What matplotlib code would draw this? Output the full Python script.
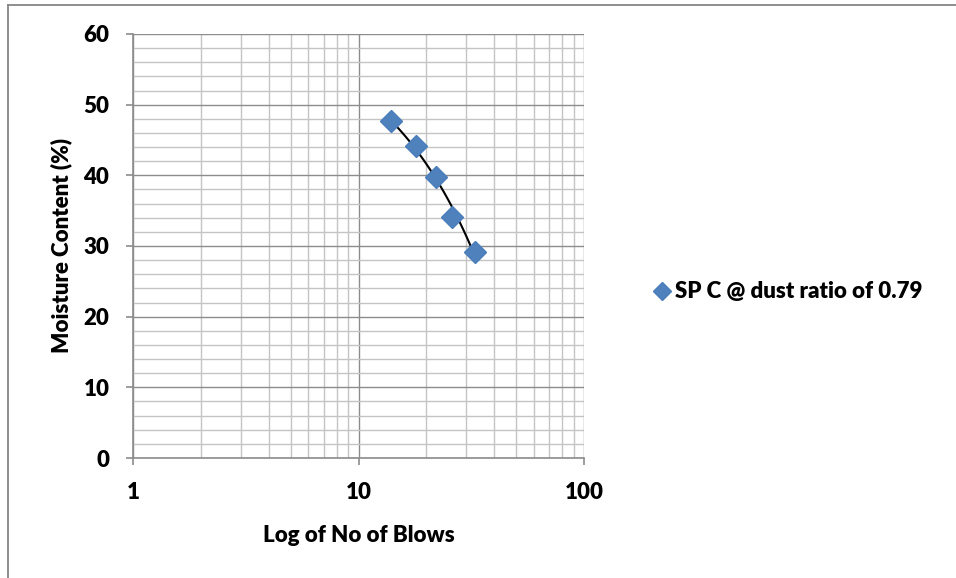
import numpy as np
import matplotlib
matplotlib.use('Agg')
import matplotlib.pyplot as plt
from matplotlib.ticker import FixedLocator, LogLocator, NullFormatter, MultipleLocator
from matplotlib.lines import Line2D

plt.rcParams['font.family'] = ['Lato', 'DejaVu Sans']
plt.rcParams['font.weight'] = 'heavy'

# blow counts and moisture contents for the liquid limit test
blows = [14, 18, 22, 26, 33]
moisture = [47.7, 44.1, 39.8, 34.1, 29.1]
series_name = 'SP C @ dust ratio of 0.79'
x_ticks = [1, 10, 100]
x_tick_labels = ['1', '10', '100']

FS = 16

fig = plt.figure(figsize=(9.56, 5.78), dpi=100)
ax = fig.add_axes([0.1391, 0.2076, 0.4718, 0.7336])

# linear trendline through the points
coef = np.polyfit(blows, moisture, 1)
xs = np.linspace(min(blows), max(blows), 100)
ax.plot(xs, np.polyval(coef, xs), color='black', lw=1.5, zorder=3)

ax.plot(blows, moisture, ls='none', marker='D', ms=11, color='#4F81BD',
        mec='#4A7EBB', zorder=4)

ax.set_xscale('log')
ax.set_xlim(1, 100)
ax.set_ylim(0, 60)
ax.xaxis.set_major_locator(FixedLocator(x_ticks))
ax.set_xticklabels(x_tick_labels)
ax.xaxis.set_minor_locator(LogLocator(base=10, subs=np.arange(2, 10)))
ax.xaxis.set_minor_formatter(NullFormatter())
ax.yaxis.set_major_locator(MultipleLocator(10))
ax.yaxis.set_minor_locator(MultipleLocator(2))

ax.grid(which='major', color='#8c8c8c', lw=1.0)
ax.grid(which='minor', color='#c4c4c4', lw=1.0)
ax.set_axisbelow(True)

for side in ['top', 'right']:
    ax.spines[side].set_visible(False)
for side in ['left', 'bottom']:
    ax.spines[side].set_color('#8c8c8c')
    ax.spines[side].set_linewidth(1.2)

ax.tick_params(which='major', length=5, width=1.2, color='#8c8c8c',
               labelsize=FS, pad=12)
ax.tick_params(which='minor', length=0)
for lab in ax.get_xticklabels() + ax.get_yticklabels():
    lab.set_fontweight('heavy')

ax.set_xlabel('Log of No of Blows', fontsize=FS, fontweight='heavy', labelpad=16)
ax.set_ylabel('Moisture Content (%)', fontsize=FS, fontweight='heavy', labelpad=8)

handle = Line2D([], [], ls='none', marker='D', ms=9, color='#4F81BD', mec='#4A7EBB')
fig.legend([handle], [series_name], loc='center left',
           bbox_to_anchor=(0.66, 0.495), frameon=False, handletextpad=0.1,
           handlelength=1.0, prop={'size': FS, 'weight': 'heavy'})

# chart frame
fig.add_artist(Line2D([8 / 956, 8 / 956], [0, 1 - 5 / 578], transform=fig.transFigure,
                      color='#868686', lw=1.3))
fig.add_artist(Line2D([8 / 956, 1], [1 - 5 / 578, 1 - 5 / 578], transform=fig.transFigure,
                      color='#868686', lw=1.3))

fig.savefig('out.png', dpi=100)
